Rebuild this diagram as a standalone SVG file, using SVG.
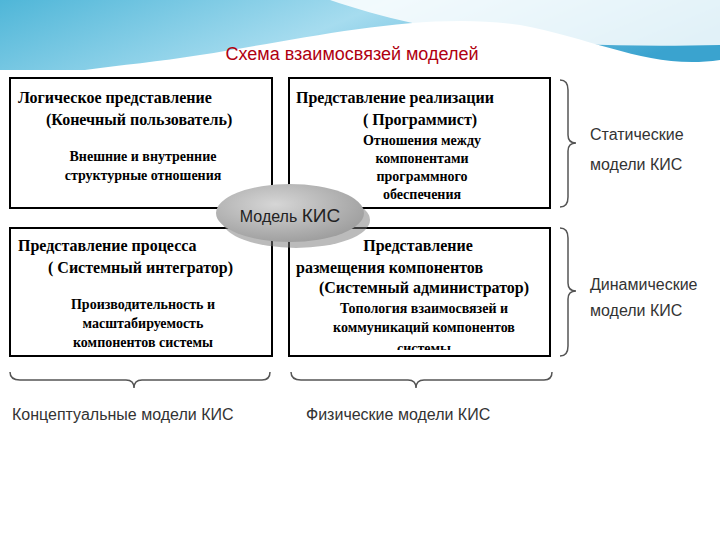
<svg xmlns="http://www.w3.org/2000/svg" width="720" height="540" viewBox="0 0 720 540">
<defs>
<linearGradient id="sky" x1="0" y1="0" x2="1" y2="0.3">
<stop offset="0" stop-color="#4fb6d8"/><stop offset="0.5" stop-color="#a6dcef"/><stop offset="1" stop-color="#3aa3cf"/>
</linearGradient>
<radialGradient id="pill" cx="0.4" cy="0.35" r="0.7">
<stop offset="0" stop-color="#d6d6d6"/><stop offset="1" stop-color="#9c9c9c"/>
</radialGradient>
<style>
.box{fill:#fff;stroke:#000;stroke-width:2}
.h{font-family:"Liberation Serif",serif;font-size:16px;font-weight:bold;fill:#000}
.s{font-family:"Liberation Serif",serif;font-size:14px;font-weight:bold;fill:#000}
.lbl{font-family:"Liberation Sans",sans-serif;font-size:16px;fill:#333}
.br{fill:none;stroke:#555;stroke-width:1.5}
</style>
</defs>
<rect width="720" height="540" fill="#fff"/>
<path d="M0 0H720V60C650 70 600 40 520 25C420 10 300 40 200 55C120 68 40 70 0 90Z" fill="url(#sky)"/>
<path d="M330 0C420 30 520 50 720 45V0Z" fill="#fff" opacity="0.85"/>
<path d="M20 85C150 60 300 40 430 55" fill="none" stroke="#fff" stroke-width="2" opacity="0.7"/>
<rect x="0" y="70" width="720" height="370" fill="#fff"/>
<text x="352" y="60" text-anchor="middle" font-family="Liberation Sans,sans-serif" font-size="18" fill="#b00010">Схема взаимосвязей моделей</text>
<g id="logical">
<rect class="box" x="10" y="78" width="262" height="130"/>
<text class="h" x="18" y="103">Логическое представление</text>
<text class="h" x="46" y="125">(Конечный пользователь)</text>
<text class="s" x="143" y="161" text-anchor="middle">Внешние и внутренние</text>
<text class="s" x="143" y="180" text-anchor="middle">структурные отношения</text>
</g>
<g id="implementation">
<rect class="box" x="289" y="78" width="261" height="130"/>
<text class="h" x="296" y="103">Представление реализации</text>
<text class="h" x="420" y="125" text-anchor="middle">( Программист)</text>
<text class="s" x="422" y="145" text-anchor="middle">Отношения между</text>
<text class="s" x="422" y="163" text-anchor="middle">компонентами</text>
<text class="s" x="422" y="181" text-anchor="middle">программного</text>
<text class="s" x="422" y="199" text-anchor="middle">обеспечения</text>
</g>
<g id="process">
<rect class="box" x="10" y="228" width="262" height="128"/>
<text class="h" x="18" y="251">Представление процесса</text>
<text class="h" x="48" y="273">( Системный интегратор)</text>
<text class="s" x="143" y="309" text-anchor="middle">Производительность и</text>
<text class="s" x="143" y="328" text-anchor="middle">масштабируемость</text>
<text class="s" x="143" y="347" text-anchor="middle">компонентов системы</text>
</g>
<g id="deployment">
<rect class="box" x="289" y="228" width="261" height="128"/>
<text class="h" x="418" y="251" text-anchor="middle">Представление</text>
<text class="h" x="296" y="273">размещения компонентов</text>
<text class="h" x="424" y="293" text-anchor="middle">(Системный администратор)</text>
<text class="s" x="424" y="313" text-anchor="middle">Топология взаимосвязей и</text>
<text class="s" x="424" y="332" text-anchor="middle">коммуникаций компонентов</text>
<clipPath id="c4"><rect x="289" y="228" width="261" height="122"/></clipPath>
<text class="s" x="424" y="353" text-anchor="middle" clip-path="url(#c4)">системы</text>
</g>
<g id="model">
<ellipse cx="296" cy="220" rx="74" ry="28" fill="#777" opacity="0.5"/>
<ellipse cx="290" cy="213" rx="74" ry="29" fill="url(#pill)"/>
<text x="290" y="222" text-anchor="middle" font-family="Liberation Sans,sans-serif" font-size="16" fill="#222">Модель <tspan font-size="19">КИС</tspan></text>
</g>
<g id="connectors">
<path class="br" d="M560 80Q568 80 568 90V135Q568 143 576 143Q568 143 568 151V197Q568 207 560 207"/>
<path class="br" d="M560 228Q568 228 568 238V283Q568 291 576 291Q568 291 568 299V346Q568 356 560 356"/>
<path class="br" d="M10 372Q10 380 20 380H126Q134 380 134 388Q134 380 142 380H262Q270 380 270 372"/>
<path class="br" d="M291 372Q291 380 301 380H408Q416 380 416 388Q416 380 424 380H544Q552 380 552 372"/>
</g>
<g id="labels">
<text class="lbl" x="590" y="140">Статические</text>
<text class="lbl" x="590" y="170">модели КИС</text>
<text class="lbl" x="590" y="290">Динамические</text>
<text class="lbl" x="590" y="316">модели КИС</text>
<text class="lbl" x="12" y="420">Концептуальные модели КИС</text>
<text class="lbl" x="306" y="420">Физические модели КИС</text>
</g>
</svg>
